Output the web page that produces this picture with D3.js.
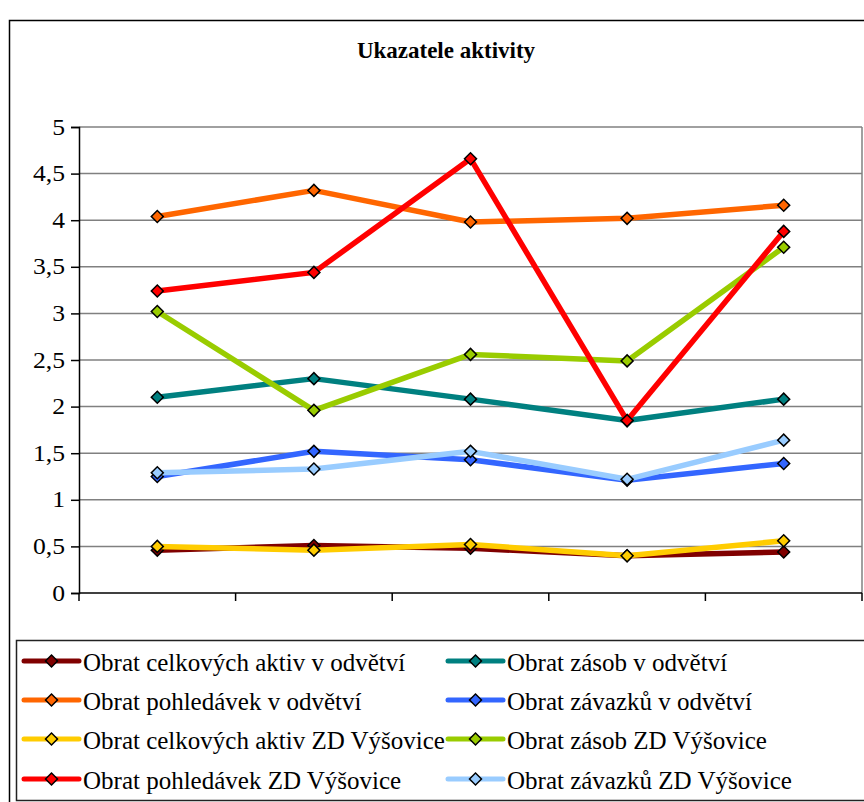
<!DOCTYPE html>
<html>
<head>
<meta charset="utf-8">
<script src="https://cdn.jsdelivr.net/npm/d3@7"></script>
<style>
  html, body { margin: 0; padding: 0; background: #fff; }
  svg { display: block; font-family: "Liberation Serif", "Times New Roman", serif; }
</style>
</head>
<body>
<svg id="chart" width="864" height="802"></svg>
<script>
// ---- data ----
const title = "Ukazatele aktivity";
const categories = ["1", "2", "3", "4", "5"];
const seriesNames = [
  "Obrat celkových aktiv v odvětví",
  "Obrat zásob v odvětví",
  "Obrat pohledávek v odvětví",
  "Obrat závazků v odvětví",
  "Obrat celkových aktiv ZD Výšovice",
  "Obrat zásob ZD Výšovice",
  "Obrat pohledávek ZD Výšovice",
  "Obrat závazků ZD Výšovice"
];
const aktivOdvetvi    = [0.46, 0.51, 0.48, 0.40, 0.44];
const zasobOdvetvi    = [2.10, 2.30, 2.08, 1.85, 2.08];
const pohledOdvetvi   = [4.04, 4.32, 3.98, 4.02, 4.16];
const zavazkuOdvetvi  = [1.25, 1.52, 1.43, 1.21, 1.39];
const aktivZD         = [0.50, 0.46, 0.52, 0.40, 0.56];
const zasobZD         = [3.02, 1.96, 2.56, 2.49, 3.71];
const pohledZD        = [3.24, 3.44, 4.66, 1.85, 3.88];
const zavazkuZD       = [1.29, 1.33, 1.52, 1.22, 1.64];
const seriesColors = ["#800000", "#008080", "#FF6600", "#3366FF", "#FFCC00", "#99CC00", "#FF0000", "#99CCFF"];
const yTicks = [0, 0.5, 1, 1.5, 2, 2.5, 3, 3.5, 4, 4.5, 5];

const seriesValues = [aktivOdvetvi, zasobOdvetvi, pohledOdvetvi, zavazkuOdvetvi,
                      aktivZD, zasobZD, pohledZD, zavazkuZD];
const series = seriesNames.map((n, i) => ({ name: n, color: seriesColors[i], values: seriesValues[i] }));

// ---- layout ----
const FONT = "Liberation Serif, Times New Roman, serif";
const svg = d3.select("#chart");
const plot = { left: 79, right: 862, top: 127, bottom: 593 };

// outer border
svg.append("rect").attr("x", 9.5).attr("y", 20.5).attr("width", 900).attr("height", 900)
  .attr("fill", "none").attr("stroke", "#000").attr("stroke-width", 1.5);

// title
svg.append("text").attr("x", 446).attr("y", 57.5).attr("text-anchor", "middle")
  .attr("font-family", FONT).attr("font-size", 23).attr("font-weight", "bold").text(title);

const x = d3.scaleBand().domain(categories).range([plot.left, plot.right]).padding(0);
const y = d3.scaleLinear().domain([0, 5]).range([plot.bottom, plot.top]);
const locale = d3.formatLocale({ decimal: ",", thousands: " ", grouping: [3], currency: ["", " Kč"] });
const fmt = locale.format("~g");

// gridlines
svg.append("g").selectAll("line").data(yTicks.filter(d => d > 0)).join("line")
  .attr("x1", plot.left).attr("x2", plot.right)
  .attr("y1", d => y(d)).attr("y2", d => y(d))
  .attr("stroke", "#808080").attr("stroke-width", 1.5);

// right plot border
svg.append("line").attr("x1", plot.right).attr("x2", plot.right)
  .attr("y1", plot.top).attr("y2", plot.bottom)
  .attr("stroke", "#808080").attr("stroke-width", 1.5);

// y axis
const tickSize = 8, tickPad = 6;
const yAxis = svg.append("g").attr("transform", `translate(${plot.left},0)`)
  .call(d3.axisLeft(y).tickValues(yTicks).tickFormat(fmt).tickSize(tickSize).tickPadding(tickPad));
yAxis.select(".domain").attr("stroke", "#000").attr("stroke-width", 1.5);
yAxis.selectAll(".tick line").attr("stroke", "#000").attr("stroke-width", 1.5);
const lx0 = -(tickSize + tickPad);
yAxis.selectAll(".tick text").attr("font-size", 21).attr("fill", "#000")
  .attr("font-family", FONT)
  .attr("transform", `translate(${lx0},0) scale(1.22,1.05) translate(${-lx0},0)`);

// x axis: ticks at category boundaries, no labels
const boundaries = categories.map(c => x(c)).concat([x(categories[categories.length - 1]) + x.bandwidth()]);
svg.append("line").attr("x1", plot.left).attr("x2", plot.right)
  .attr("y1", plot.bottom).attr("y2", plot.bottom).attr("stroke", "#000").attr("stroke-width", 1.5);
svg.append("g").selectAll("line").data(boundaries).join("line")
  .attr("x1", d => d).attr("x2", d => d)
  .attr("y1", plot.bottom).attr("y2", plot.bottom + 8)
  .attr("stroke", "#000").attr("stroke-width", 1.5);

// series
const cx = c => x(c) + x.bandwidth() / 2;
const line = d3.line().x((d, i) => cx(categories[i])).y(d => y(d));
const diamond = d3.symbol().type(d3.symbolSquare).size(72);

series.forEach(s => {
  const g = svg.append("g");
  g.append("path").attr("d", line(s.values)).attr("fill", "none")
    .attr("stroke", s.color).attr("stroke-width", 5.5).attr("stroke-linejoin", "round");
  g.selectAll("path.m").data(s.values).join("path").attr("class", "m")
    .attr("d", diamond)
    .attr("transform", (d, i) => `translate(${cx(categories[i])},${y(d)}) rotate(45)`)
    .attr("fill", s.color).attr("stroke", "#000").attr("stroke-width", 1.5);
});

// legend
svg.append("rect").attr("x", 16.5).attr("y", 640.5).attr("width", 900).attr("height", 160)
  .attr("fill", "none").attr("stroke", "#222").attr("stroke-width", 1.5);
const legCols = [24, 448];
const legRowY = [661, 700, 739, 779];
series.forEach((s, i) => {
  const col = i % 2, row = Math.floor(i / 2);
  const lx = legCols[col], ly = legRowY[row];
  const g = svg.append("g");
  g.append("line").attr("x1", lx).attr("x2", lx + 55).attr("y1", ly).attr("y2", ly)
    .attr("stroke", s.color).attr("stroke-width", 5).attr("stroke-linecap", "round");
  g.append("path").attr("d", diamond).attr("transform", `translate(${lx + 27.5},${ly}) rotate(45)`)
    .attr("fill", s.color).attr("stroke", "#000").attr("stroke-width", 1.5);
  g.append("text").attr("x", lx + 59).attr("y", ly + 9.5).attr("font-size", 25).attr("fill", "#000")
    .attr("font-family", FONT).text(s.name);
});
</script>
</body>
</html>
